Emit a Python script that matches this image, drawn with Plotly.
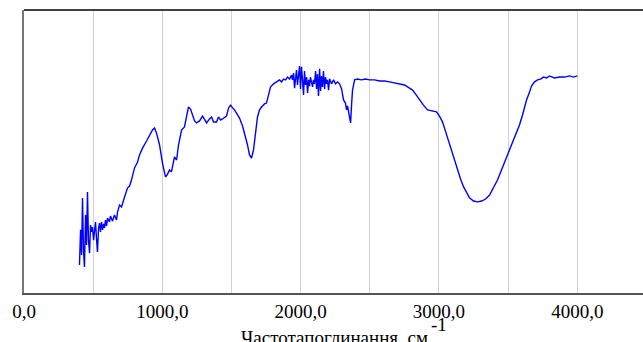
import plotly.graph_objects as go

# Wavenumber, cm^-1
wavenumber = [
    401, 409, 416, 423, 430, 437, 445, 452, 459, 466, 474, 481, 488, 495, 503, 510,
    517, 524, 531, 539, 546, 553, 560, 568, 575, 582, 589, 597, 604, 618, 625, 640,
    654, 669, 676, 691, 705, 727, 748, 763, 777, 799, 821, 835, 857, 886, 907, 929,
    944, 958, 980, 1001, 1023, 1038, 1052, 1066, 1088, 1103, 1117, 1139, 1160, 1175,
    1189, 1204, 1218, 1233, 1247, 1269, 1291, 1305, 1320, 1341, 1356, 1370, 1392, 1406,
    1421, 1435, 1450, 1464, 1479, 1493, 1508, 1522, 1536, 1558, 1580, 1594, 1616, 1630,
    1645, 1659, 1674, 1688, 1703, 1717, 1739, 1753, 1768, 1782, 1804, 1826, 1847, 1862,
    1876, 1891, 1905, 1920, 1934, 1941, 1949, 1956, 1963, 1970, 1977, 1985, 1992, 1999,
    2006, 2014, 2021, 2028, 2035, 2043, 2050, 2057, 2064, 2071, 2079, 2086, 2093, 2100,
    2108, 2115, 2122, 2129, 2137, 2144, 2151, 2158, 2165, 2173, 2180, 2187, 2194, 2202,
    2209, 2223, 2238, 2252, 2267, 2281, 2296, 2310, 2324, 2332, 2339, 2353, 2361, 2368,
    2375, 2390, 2411, 2440, 2469, 2498, 2534, 2570, 2606, 2643, 2679, 2715, 2751, 2787,
    2809, 2831, 2860, 2888, 2917, 2946, 2982, 3004, 3026, 3047, 3069, 3091, 3113, 3134,
    3156, 3178, 3199, 3221, 3250, 3279, 3308, 3337, 3366, 3395, 3423, 3452, 3481, 3510,
    3532, 3561, 3582, 3604, 3619, 3633, 3655, 3669, 3691, 3713, 3734, 3756, 3778, 3799,
    3835, 3872, 3908, 3944, 3973, 4000,
]

# Transmittance, %
transmittance = [
    9.9, 22.3, 13.4, 33.6, 15.2, 9.2, 27.6, 17.0, 35.7, 18.7, 14.1, 24.0, 21.6, 23.3, 18.7, 22.3,
    25.1, 19.4, 14.5, 23.0, 24.7, 21.6, 25.1, 22.3, 24.4, 23.0, 25.8, 23.7, 26.5, 25.1, 27.2, 25.4,
    27.6, 25.8, 28.6, 31.1, 30.4, 33.9, 37.1, 37.8, 39.9, 44.2, 46.3, 48.8, 51.2, 53.7, 55.8, 57.6,
    58.3, 56.5, 52.3, 45.9, 41.0, 42.0, 43.5, 42.8, 48.1, 47.0, 52.3, 57.6, 58.7, 62.9,
    65.7, 65.0, 63.3, 60.8, 60.1, 60.8, 62.5, 61.5, 60.1, 61.5, 62.2, 60.4, 60.4, 62.2,
    61.1, 61.5, 62.2, 62.5, 65.4, 66.4, 65.4, 64.7, 63.6, 61.8, 59.0, 56.5, 52.3, 48.8,
    47.7, 50.5, 56.5, 62.2, 64.7, 65.7, 66.8, 67.1, 70.0, 72.8, 73.9, 74.6, 75.3, 74.6,
    75.6, 75.3, 76.3, 75.6, 77.0, 75.3, 77.7, 72.4, 76.7, 78.8, 73.5, 76.3, 80.2, 72.1,
    79.9, 74.9, 70.0, 78.4, 73.5, 76.3, 70.7, 75.3, 73.1, 76.3, 74.6, 72.8, 75.3, 73.9,
    78.4, 72.1, 77.4, 69.6, 79.2, 71.4, 76.7, 72.8, 78.4, 72.1, 76.3, 73.9, 75.3, 71.7,
    75.7, 73.9, 75.3, 73.9, 74.6, 73.9, 72.1, 68.2, 67.1, 64.7, 66.1, 62.9, 60.1, 66.4,
    71.7, 75.3, 75.6, 75.3, 75.6, 75.3, 75.3, 74.9, 74.9, 74.6, 74.2, 73.9, 73.5, 72.4,
    71.7, 70.3, 68.2, 66.4, 64.7, 64.3, 64.0, 62.5, 60.4, 57.2, 53.7, 49.8, 46.3, 43.5,
    40.3, 37.5, 35.3, 33.6, 32.5, 32.2, 32.5, 33.2, 34.6, 37.1, 39.9, 43.5, 47.0, 50.5,
    53.0, 56.5, 59.4, 62.9, 65.7, 68.2, 71.0, 73.1, 74.6, 75.3, 75.6, 76.3, 76.0, 76.7,
    76.0, 76.3, 76.3, 76.7, 76.3, 76.7,
]

tick_values = [0, 1000, 2000, 3000, 4000]
tick_labels = ["0,0", "1000,0", "2000,0", "3000,0", "4000,0"]
x_title = "Частотапоглинання, см"
x_title_sup = "-1"

SERIF = "Liberation Serif, Times New Roman, serif"

fig = go.Figure(
    go.Scatter(
        x=wavenumber,
        y=transmittance,
        mode="lines",
        line=dict(color="#0000ff", width=1.4),
        hoverinfo="x+y",
    )
)

fig.update_layout(
    width=643,
    height=342,
    margin=dict(l=24, r=0, t=10, b=49),
    paper_bgcolor="white",
    plot_bgcolor="white",
    showlegend=False,
    xaxis=dict(
        range=[0, 4475],
        tickvals=tick_values,
        ticktext=tick_labels,
        ticks="",
        tickfont=dict(family=SERIF, size=19, color="black"),
        showgrid=True,
        gridcolor="#d2d2d2",
        gridwidth=1,
        minor=dict(dtick=500, tick0=0, showgrid=True, gridcolor="#d2d2d2", gridwidth=1),
        showline=True,
        linecolor="#555555",
        linewidth=2,
        zeroline=False,
        automargin=False,
        ticklabelstandoff=0,
    ),
    yaxis=dict(
        range=[0, 100],
        showticklabels=False,
        ticks="",
        showgrid=False,
        zeroline=False,
        showline=True,
        linecolor="#777777",
        linewidth=2,
        automargin=False,
    ),
    shapes=[
        dict(type="line", xref="paper", yref="paper", x0=0, x1=1, y0=1, y1=1,
             line=dict(color="black", width=1.5)),
    ],
    annotations=[
        dict(text=x_title, xref="paper", yref="paper", x=0.502, y=-0.158,
             xanchor="center", yanchor="middle", showarrow=False,
             font=dict(family=SERIF, size=19, color="black")),
        dict(text=x_title_sup, xref="paper", yref="paper", x=0.67, y=-0.11,
             xanchor="center", yanchor="middle", showarrow=False,
             font=dict(family=SERIF, size=19, color="black")),
    ],
)

fig.write_html(
    "out.html",
    config={"displayModeBar": False},
    post_script="document.body.style.margin='0';document.body.style.overflow='hidden';",
)
